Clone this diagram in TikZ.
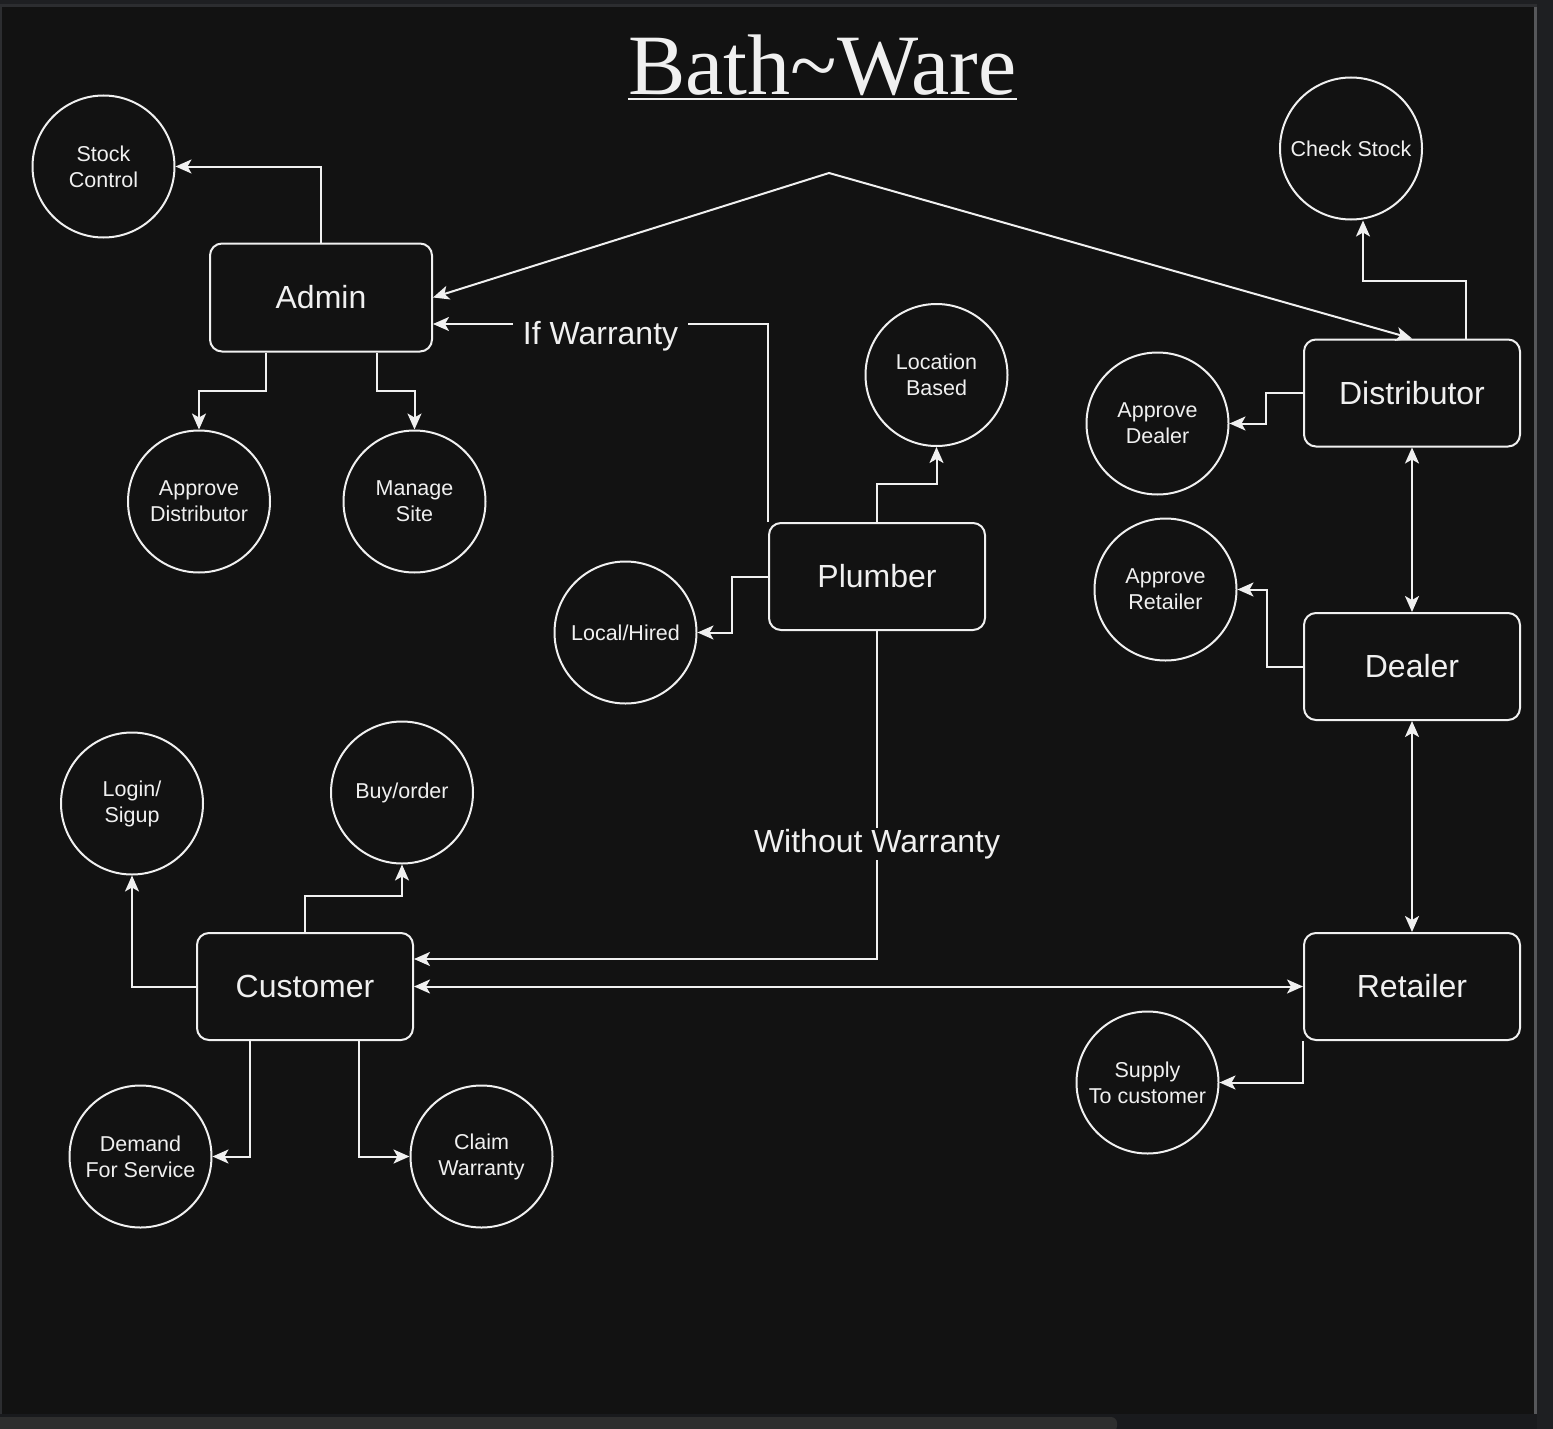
\documentclass[tikz,border=0pt]{standalone}
\usepackage{fontspec}
\setmainfont{Liberation Sans}
\newfontfamily\titlefont{Liberation Serif}
\usetikzlibrary{arrows.meta}
\definecolor{bg}{HTML}{121212}
\definecolor{outer}{HTML}{1E1F22}
\definecolor{band}{HTML}{2C2D30}
\definecolor{ink}{HTML}{F0F0F0}
\definecolor{scroll}{HTML}{2E2E2E}
\tikzset{
  box/.style={draw=ink, line width=2pt, rounded corners=12pt, minimum width=216pt, minimum height=107pt, inner sep=0pt, text=ink, font=\fontsize{32}{38}\selectfont},
  bubble/.style={draw=ink, line width=2pt, circle, minimum size=142pt, inner sep=0pt, text=ink, align=center, font=\fontsize{21.5}{26}\selectfont},
  conn/.style={draw=ink, line width=2pt},
  arr/.style={conn, -{Stealth[length=16pt,width=14pt,inset=4pt]}},
  darr/.style={conn, {Stealth[length=16pt,width=14pt,inset=4pt]}-{Stealth[length=16pt,width=14pt,inset=4pt]}},
  lbl/.style={fill=bg, text=ink, inner xsep=10pt, inner ysep=3pt, font=\fontsize{32}{38}\selectfont}
}
\begin{document}
\begin{tikzpicture}[x=1pt,y=-1pt]
\useasboundingbox (0,0) rectangle (1553,1429);
\clip (0,0) rectangle (1553,1429);
% frame / background
\fill[outer] (0,0) rectangle (1553,1429);
\fill[band] (0,4) rectangle (1537,7);
\fill[band] (0,4) rectangle (2,1414);
\fill[bg] (2,7) rectangle (1534,1414);
\fill[band!80!white] (1534,7) rectangle (1537,1414);
\fill[outer!85!black] (0,1414) rectangle (1537,1429);
\fill[scroll, rounded corners=6pt] (-10,1417) rectangle (1117,1432);

% title
\node[anchor=base, inner sep=0pt, text=ink, font=\titlefont\fontsize{86}{90}\selectfont] (title) at (822.5,95) {Bath\textasciitilde Ware};
\draw[ink, line width=2pt] ([yshift=-4pt]title.base west) -- ([yshift=-4pt]title.base east);

% boxes
\node[box, minimum width=222pt, minimum height=108pt] (admin) at (321,297.5) {Admin};
\node[box] (dist) at (1412,393) {Distributor};
\node[box] (plumb) at (877,576.5) {Plumber};
\node[box] (deal) at (1412,666.5) {Dealer};
\node[box] (cust) at (305,986.5) {Customer};
\node[box] (ret) at (1412,986.5) {Retailer};

% bubbles
\node[bubble] (sc) at (103.5,166.5) {Stock\\Control};
\node[bubble] (cs) at (1351,148.5) {Check Stock};
\node[bubble] (lb) at (936.5,375) {Location\\Based};
\node[bubble] (apd) at (1157.5,423.5) {Approve\\Dealer};
\node[bubble] (apdist) at (199,501.5) {Approve\\Distributor};
\node[bubble] (ms) at (414.5,501.5) {Manage\\Site};
\node[bubble] (apr) at (1165.5,589.5) {Approve\\Retailer};
\node[bubble] (lh) at (625.5,632.5) {Local/Hired};
\node[bubble] (login) at (132,803.5) {Login/\\Sigup};
\node[bubble] (buy) at (402,792.5) {Buy/order};
\node[bubble] (dem) at (140.5,1156.5) {Demand\\For Service};
\node[bubble] (claim) at (481.5,1156.5) {Claim\\Warranty};
\node[bubble] (sup) at (1147.5,1082.5) {Supply\\To customer};

\coordinate (peak) at (829,173);

% connectors
\draw[arr] (admin.north) |- (sc.east);
\draw[arr] ([xshift=-55pt]admin.south) -- ++(0,38.5) -| (apdist.north);
\draw[arr] ([xshift=56pt]admin.south) -- ++(0,38.5) -| (ms.north);
\draw[darr] (admin.east) -- (peak) -- (dist.north);
\draw[arr] (plumb.north west) |- ([yshift=-26.5pt]admin.east)
  node[lbl, pos=0.75, yshift=-12pt] {If Warranty};
\draw[arr] (plumb.north) -- ++(0,-38) -| (lb.south);
\draw[arr] (plumb.west) -- ++(-36,0) |- (lh.east);
\draw[arr] (plumb.south) |- ([yshift=27.5pt]cust.east)
  node[lbl, pos=0.325, inner ysep=1pt] {Without Warranty};
\draw[arr] ([xshift=54pt]dist.north) -- ++(0,-58) -| ([xshift=12pt]cs.south);
\draw[arr] (dist.west) -- ++(-37,0) |- (apd.east);
\draw[darr] (dist.south) -- (deal.north);
\draw[arr] (deal.west) -- ++(-36,0) |- (apr.east);
\draw[darr] (deal.south) -- (ret.north);
\draw[darr] (cust.east) -- (ret.west);
\draw[arr] (ret.south west) |- (sup.east);
\draw[arr] (cust.west) -| (login.south);
\draw[arr] (cust.north) -- ++(0,-36) -| (buy.south);
\draw[arr] ([xshift=-55pt]cust.south) |- (dem.east);
\draw[arr] ([xshift=54pt]cust.south) |- (claim.west);
\end{tikzpicture}
\end{document}
